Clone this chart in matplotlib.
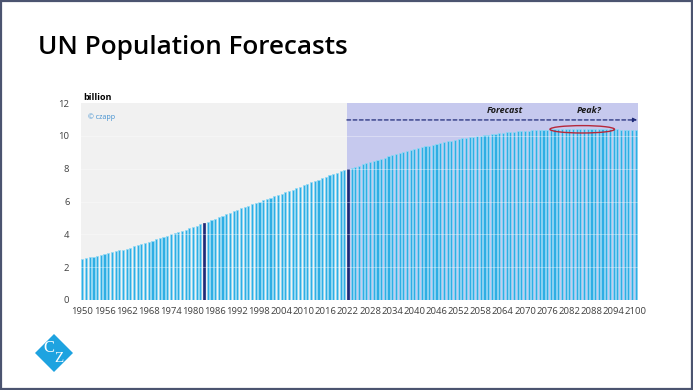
import numpy as np
import matplotlib
matplotlib.use("Agg")
import matplotlib.pyplot as plt
from matplotlib.patches import Ellipse, Rectangle, Polygon

# world population, billions
years = list(range(1950, 2101))
population = [
    2.50, 2.54, 2.59, 2.64, 2.69, 2.75, 2.80, 2.86, 2.91, 2.96,
    3.02, 3.07, 3.13, 3.19, 3.26, 3.32, 3.40, 3.47, 3.54, 3.62,
    3.70, 3.77, 3.85, 3.92, 4.00, 4.07, 4.14, 4.22, 4.29, 4.37,
    4.44, 4.52, 4.60, 4.68, 4.77, 4.86, 4.95, 5.04, 5.13, 5.22,
    5.32, 5.41, 5.49, 5.58, 5.66, 5.74, 5.82, 5.91, 5.99, 6.07,
    6.15, 6.23, 6.31, 6.39, 6.47, 6.56, 6.64, 6.73, 6.81, 6.90,
    6.99, 7.07, 7.16, 7.25, 7.34, 7.43, 7.51, 7.60, 7.68, 7.76,
    7.84, 7.91, 7.98, 8.05, 8.12, 8.19, 8.26, 8.34, 8.41, 8.48,
    8.55, 8.61, 8.68, 8.75, 8.81, 8.88, 8.94, 9.01, 9.07, 9.13,
    9.19, 9.25, 9.30, 9.36, 9.41, 9.47, 9.52, 9.57, 9.62, 9.66,
    9.71, 9.75, 9.80, 9.84, 9.88, 9.92, 9.95, 9.99, 10.02, 10.05,
    10.08, 10.11, 10.14, 10.16, 10.19, 10.21, 10.23, 10.25, 10.27, 10.29,
    10.31, 10.32, 10.34, 10.35, 10.36, 10.37, 10.38, 10.39, 10.40, 10.40,
    10.41, 10.42, 10.42, 10.42, 10.43, 10.43, 10.43, 10.43, 10.43, 10.42,
    10.42, 10.41, 10.41, 10.40, 10.39, 10.39, 10.38, 10.37, 10.36, 10.36,
    10.35,
]
highlight_years = [1983, 2022]
forecast_start = 2022
peak_year = 2086
tick_years = list(range(1950, 2101, 6))
y_ticks = [0, 2, 4, 6, 8, 10, 12]

BAR = "#2eaee4"
DARK = "#1f2a78"
GRAY_BG = "#f1f1f1"
LAV_BG = "#c6c9ee"

fig = plt.figure(figsize=(6.93, 3.90), dpi=100)
fig.patch.set_facecolor("white")

# outer frame
fig.patches.append(Rectangle((0.0015, 0.0025), 0.997, 0.995, transform=fig.transFigure,
                             fill=False, edgecolor="#4b5470", linewidth=1.6))

fig.text(0.055, 0.877, "UN Population Forecasts", fontsize=18.8, family="Open Sans",
         weight="semibold", color="black", va="center", ha="left")

ax = fig.add_axes([0.1162, 0.2308, 0.8038, 0.505])
ax.set_xlim(1949.5, 2100.5)
ax.set_ylim(0, 12)

# background panels
ax.add_patch(Rectangle((1949.5, 0), forecast_start - 0.3 - 1949.5, 12,
                       facecolor=GRAY_BG, edgecolor="none", zorder=0))
ax.add_patch(Rectangle((forecast_start - 0.3, 0), 2100.5 - forecast_start + 0.3, 12,
                       facecolor=LAV_BG, edgecolor="none", zorder=0))

colors = [DARK if y in highlight_years else BAR for y in years]
edges = [DARK if y in highlight_years else "#92daf6" for y in years]
ax.bar(years, population, width=0.58, color=colors, edgecolor=edges,
       linewidth=0.5, zorder=2)

# faint gridlines
for v in y_ticks[1:-1]:
    ax.axhline(v, color="white", alpha=0.35, linewidth=0.7, zorder=3)

# forecast arrow
ax.annotate("", xy=(2100.4, 10.97), xytext=(forecast_start - 0.3, 10.97),
            arrowprops=dict(arrowstyle="-|>", color=DARK, linestyle=(0, (3, 2)),
                            linewidth=0.9, mutation_scale=6, shrinkA=0, shrinkB=0),
            zorder=4)
ax.text(2064.5, 11.55, "Forecast", fontsize=6.5, weight="bold", style="italic",
        family="Open Sans", ha="center", va="center", color="#1a1a1a")
ax.text(2087.5, 11.55, "Peak?", fontsize=6.5, weight="bold", style="italic",
        family="Open Sans", ha="center", va="center", color="#1a1a1a")
ax.add_patch(Ellipse((peak_year - 0.5, 10.4), 17.5, 0.45, fill=False,
                     edgecolor="#b5283a", linewidth=1.0, zorder=5))

ax.text(1951.5, 11.15, "\u00a9 czapp", fontsize=5, color="#3f8fd0",
        family="Open Sans", ha="left", va="center")
ax.text(1950.3, 12.35, "billion", fontsize=6.5, weight="bold", color="black",
        family="Open Sans", ha="left", va="center", clip_on=False)

ax.set_xticks(tick_years)
ax.set_xticklabels([str(y) for y in tick_years], fontsize=6.8, color="#404040",
                   family="Open Sans")
ax.set_yticks(y_ticks)
ax.set_yticklabels([str(v) for v in y_ticks], fontsize=6.8, color="#404040",
                   family="Open Sans")
ax.tick_params(axis="x", length=0, pad=5)
ax.tick_params(axis="y", length=0, pad=8)
for s in ax.spines.values():
    s.set_visible(False)

# logo
cx, cy = 54 / 693, (390 - 353) / 390
dx, dy = 19 / 693, 19 / 390
fig.patches.append(Polygon([(cx - dx, cy), (cx, cy + dy), (cx + dx, cy), (cx, cy - dy)],
                           closed=True, transform=fig.transFigure,
                           facecolor="#1ea3e0", edgecolor="none"))
fig.text(cx - 0.007, cy + 0.012, "C", fontsize=12, family="Liberation Serif",
         color="white", ha="center", va="center")
fig.text(cx + 0.007, cy - 0.014, "Z", fontsize=11, family="Liberation Serif",
         color="white", ha="center", va="center")

fig.savefig("out.png", dpi=100)
